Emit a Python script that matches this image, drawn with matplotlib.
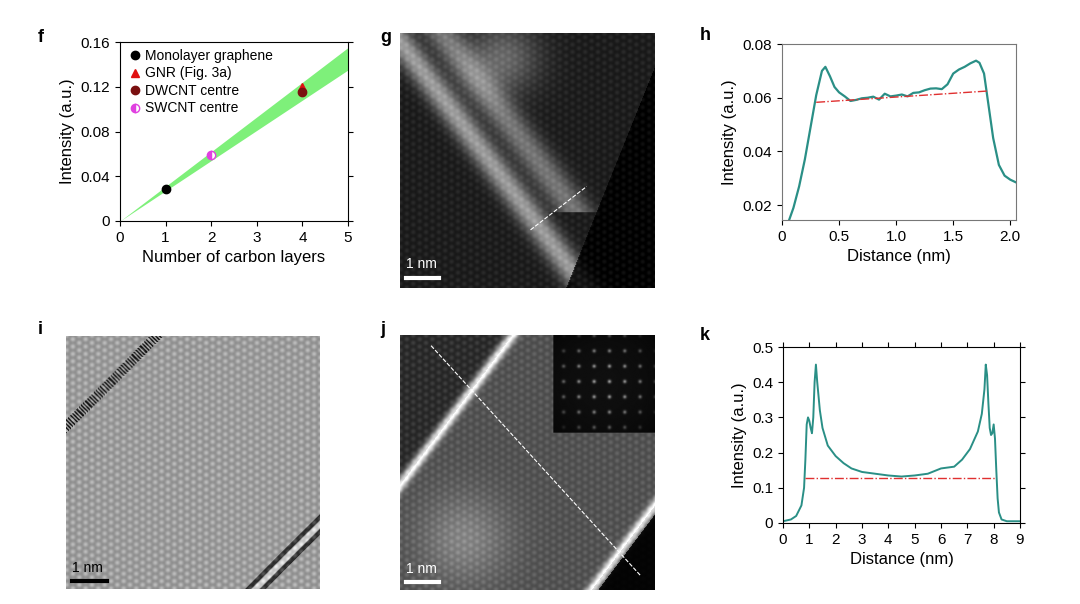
import numpy as np
import matplotlib.pyplot as plt

plt.rcParams['font.family'] = ['Liberation Sans', 'DejaVu Sans']
plt.rcParams['font.size'] = 11

W, H = 1080, 604

# ── data: panel f ────────────────────────────────────────────────
band_x = [0, 5]
band_lo = [0, 0.135]
band_hi = [0, 0.155]
mono_x, mono_y = [1], [0.029]
gnr_x, gnr_y = [4], [0.120]
dw_x, dw_y = [4], [0.115]
sw_x, sw_y = [2], [0.059]

# ── data: panel h ────────────────────────────────────────────────
h_x = [0.05, 0.1, 0.15, 0.2, 0.25, 0.3, 0.35, 0.38, 0.42, 0.46, 0.5, 0.55, 0.6,
       0.65, 0.7, 0.75, 0.8, 0.85, 0.9, 0.95, 1.0, 1.05, 1.1, 1.15, 1.2, 1.25,
       1.3, 1.35, 1.4, 1.45, 1.5, 1.55, 1.6, 1.65, 1.7, 1.73, 1.77, 1.8, 1.85,
       1.9, 1.95, 2.0, 2.05]
h_y = [0.013, 0.019, 0.027, 0.037, 0.049, 0.061, 0.070, 0.0715, 0.068, 0.064,
       0.062, 0.0605, 0.0588, 0.0592, 0.0598, 0.0600, 0.0604, 0.0593, 0.0615,
       0.0605, 0.0608, 0.0612, 0.0605, 0.0618, 0.062, 0.0628, 0.0634, 0.0635,
       0.0632, 0.0650, 0.069, 0.0705, 0.0715, 0.0728, 0.0738, 0.073, 0.069,
       0.060, 0.045, 0.035, 0.031, 0.0295, 0.0285]
h_ref_x = [0.3, 1.8]
h_ref_y = [0.0583, 0.0625]

# ── data: panel k ────────────────────────────────────────────────
k_x = [0, 0.3, 0.5, 0.7, 0.8, 0.85, 0.9, 0.95, 1.0, 1.05, 1.1, 1.15, 1.2, 1.25,
       1.3, 1.4, 1.5, 1.7, 2.0, 2.3, 2.6, 3.0, 3.5, 4.0, 4.5, 5.0, 5.5, 6.0,
       6.5, 6.8, 7.1, 7.4, 7.55, 7.65, 7.7, 7.75, 7.8, 7.85, 7.9, 7.95, 8.0,
       8.05, 8.1, 8.15, 8.2, 8.3, 8.5, 9.0]
k_y = [0.005, 0.01, 0.02, 0.05, 0.10, 0.18, 0.28, 0.30, 0.29, 0.27, 0.255, 0.30,
       0.40, 0.45, 0.40, 0.32, 0.27, 0.22, 0.19, 0.17, 0.155, 0.145, 0.14,
       0.135, 0.132, 0.135, 0.14, 0.155, 0.16, 0.18, 0.21, 0.26, 0.31, 0.38,
       0.45, 0.42, 0.34, 0.27, 0.25, 0.255, 0.28, 0.24, 0.15, 0.07, 0.03,
       0.01, 0.005, 0.005]
k_ref_x = [0.85, 8.1]
k_ref_y = [0.127, 0.127]

teal = "#2a8f86"
fig = plt.figure(figsize=(W / 100, H / 100), dpi=100)


def add_ax(x0, y0, x1, y1):
    return fig.add_axes([x0 / W, 1 - y1 / H, (x1 - x0) / W, (y1 - y0) / H])


def label(x, y, s):
    fig.text(x / W, 1 - y / H, s, fontsize=13, fontweight="bold", va="center")


# ── f ────────────────────────────────────────────────────────────
ax = add_ax(120, 42, 348, 221)
ax.fill_between(band_x, band_lo, band_hi, color="#7ef07a", lw=0)
ax.plot(mono_x, mono_y, "o", color="black", ms=6, label="Monolayer graphene")
ax.plot(gnr_x, gnr_y, "^", color="#e01010", ms=6, label="GNR (Fig. 3a)")
ax.plot(dw_x, dw_y, "o", color="#7a1010", ms=6, label="DWCNT centre")
ax.plot(sw_x, sw_y, "o", color="#e040e0", mfc="#e040e0", mfcalt="white",
        fillstyle="left", ms=6, label="SWCNT centre")
ax.set_xlim(0, 5)
ax.set_ylim(0, 0.16)
ax.set_xticks(range(6))
ax.set_yticks([0, 0.04, 0.08, 0.12, 0.16])
ax.set_yticklabels(["0", "0.04", "0.08", "0.12", "0.16"])
ax.set_xlabel("Number of carbon layers", fontsize=12)
ax.set_ylabel("Intensity (a.u.)", fontsize=12)
ax.legend(loc="upper left", frameon=False, fontsize=10, handletextpad=0.1,
          borderaxespad=0.1, labelspacing=0.25, handlelength=1.2)
ax.tick_params(direction="out", top=False, right=True)
label(38, 38, "f")

# ── h ────────────────────────────────────────────────────────────
ax = add_ax(782, 44, 1016, 220)
ax.plot(h_x, h_y, color=teal, lw=1.6)
ax.plot(h_ref_x, h_ref_y, "-.", color="#e03030", lw=1)
ax.set_xlim(0, 2.05)
ax.set_ylim(0.0145, 0.08)
ax.set_xticks([0, 0.5, 1.0, 1.5, 2.0])
ax.set_xticklabels(["0", "0.5", "1.0", "1.5", "2.0"])
ax.set_yticks([0.02, 0.04, 0.06, 0.08])
ax.set_xlabel("Distance (nm)", fontsize=12)
ax.set_ylabel("Intensity (a.u.)", fontsize=12)
for s in ax.spines.values():
    s.set_color("#777777")
label(700, 35, "h")

# ── k ────────────────────────────────────────────────────────────
ax = add_ax(783, 347, 1020, 523)
ax.plot(k_x, k_y, color=teal, lw=1.4)
ax.plot(k_ref_x, k_ref_y, "-.", color="#e03030", lw=1)
ax.set_xlim(0, 9)
ax.set_ylim(0, 0.5)
ax.set_xticks(range(10))
ax.set_yticks([0, 0.1, 0.2, 0.3, 0.4, 0.5])
ax.set_yticklabels(["0", "0.1", "0.2", "0.3", "0.4", "0.5"])
ax.set_xlabel("Distance (nm)", fontsize=12)
ax.set_ylabel("Intensity (a.u.)", fontsize=12)
ax.tick_params(top=True, right=True)
label(700, 335, "k")

# ── images (schematic) ───────────────────────────────────────────
n = 256
yy, xx = np.mgrid[0:n, 0:n] / n
lat = (np.cos(2 * np.pi * 40 * xx) + np.cos(2 * np.pi * 40 * (0.5 * xx + 0.866 * yy))
       + np.cos(2 * np.pi * 40 * (-0.5 * xx + 0.866 * yy))) / 3

# g
u = xx * 0.8 - yy * 0.6
img = 0.12 + 0.5 * np.exp(-((u + 0.02) / 0.05) ** 2) + 0.35 * np.exp(-((u - 0.13) / 0.06) ** 2) * (yy < 0.7)
img += 0.3 * np.exp(-((xx - 0.4) ** 2 + (yy - 0.1) ** 2) / 0.02)
img *= np.where(xx + yy * 0.4 > 1.05, 0.15, 1.0)
img += 0.05 * lat
ax = add_ax(400, 33, 655, 288)
ax.imshow(img, cmap="gray", vmin=0, vmax=1)
ax.plot([0.51 * n, 0.73 * n], [0.77 * n, 0.6 * n], "--", color="white", lw=0.8)
ax.plot([0.02 * n, 0.15 * n], [0.96 * n, 0.96 * n], color="white", lw=3)
ax.text(0.02 * n, 0.92 * n, "1 nm", color="white", fontsize=10)
ax.axis("off")
label(380, 38, "g")

# i
v = xx * 0.7 + yy * 0.7
img = 0.62 + 0.12 * lat
img -= 0.5 * (np.abs(v - 0.25) < 0.02) * (np.cos(2 * np.pi * 60 * (xx - yy)) > 0)
img -= 0.4 * (np.abs(v - 1.2) < 0.008)
img -= 0.4 * (np.abs(v - 1.24) < 0.008)
img += 0.2 * (np.abs(v - 1.22) < 0.01)
ax = add_ax(66, 335, 320, 590)
ax.imshow(img, cmap="gray", vmin=0, vmax=1)
ax.plot([0.02 * n, 0.16 * n], [0.965 * n, 0.965 * n], color="black", lw=3)
ax.text(0.02 * n, 0.93 * n, "1 nm", color="black", fontsize=10)
ax.axis("off")
label(38, 330, "i")

# j
w = xx * 0.8 + yy * 0.6
img = 0.18 + 0.07 * lat
img += 0.7 * np.exp(-((w - 0.35) / 0.02) ** 2) + 0.7 * np.exp(-((w - 1.2) / 0.02) ** 2)
img += 0.15 * ((w > 0.35) & (w < 1.2))
img += 0.2 * np.exp(-((xx - 0.25) ** 2 + (yy - 0.8) ** 2) / 0.03)
img *= np.where(w > 1.22, 0.1, 1.0)
fft = 0.05 + 0.9 * np.exp(-(((xx - 0.85) % 0.06 - 0.03) ** 2 + ((yy - 0.15) % 0.06 - 0.03) ** 2) / 0.00005)
inset = (xx > 0.6) & (yy < 0.38)
img = np.where(inset, fft * 0.6 * (1 - ((xx - 0.8) ** 2 + (yy - 0.19) ** 2) * 15).clip(0, 1) + 0.03, img)
ax = add_ax(400, 335, 655, 590)
ax.imshow(img, cmap="gray", vmin=0, vmax=1)
ax.plot([0.12 * n, 0.94 * n], [0.04 * n, 0.94 * n], "--", color="white", lw=0.8)
ax.plot([0.02 * n, 0.15 * n], [0.965 * n, 0.965 * n], color="white", lw=3)
ax.text(0.02 * n, 0.93 * n, "1 nm", color="white", fontsize=10)
ax.axis("off")
label(380, 330, "j")

fig.savefig("out.png", dpi=100)
